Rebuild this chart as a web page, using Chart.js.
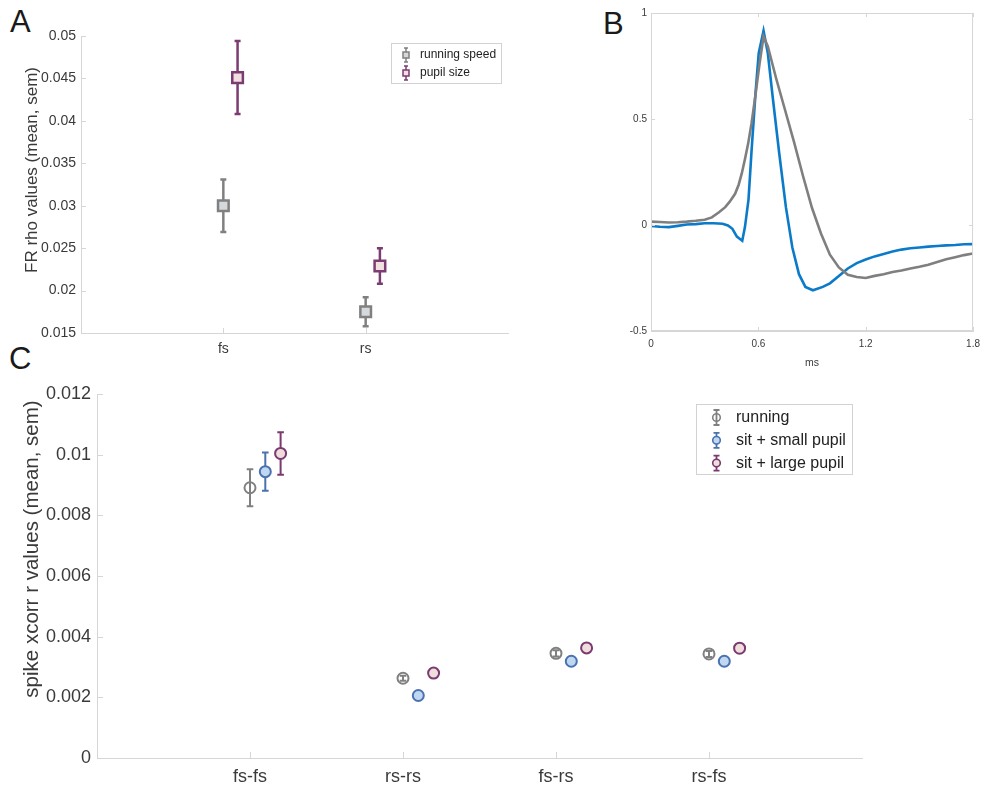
<!DOCTYPE html>
<html>
<head>
<meta charset="utf-8">
<title>rho / xcorr / waveforms</title>
<script src="https://cdn.jsdelivr.net/npm/chart.js@4.4.0/dist/chart.umd.min.js"></script>
<style>
    body { margin: 0; background: #fff; width: 987px; height: 787px; position: relative; overflow: hidden; font-family: "Liberation Sans", Arial, sans-serif; }
    .panel { position: absolute; }
    .tag { position: absolute; font-size: 31px; line-height: 1; color: #1a1a1a; }
</style>
</head>
<body>
<div class="tag" style="left:10px;top:6px">A</div>
<div class="tag" style="left:603px;top:8px">B</div>
<div class="tag" style="left:9px;top:343px">C</div>

<div class="panel" style="left:0;top:20px;width:520px;height:345px"><canvas id="rhoChart"></canvas></div>
<div class="panel" style="left:600px;top:0;width:387px;height:375px"><canvas id="waveChart"></canvas></div>
<div class="panel" style="left:0;top:375px;width:880px;height:412px"><canvas id="xcorrChart"></canvas></div>

<script>
// ---- A: firing-rate correlation ----
const rhoCategories = ['fs', 'rs'];
const rhoRunMean = [0.0300, 0.0175];
const rhoRunSem = [0.0031, 0.0017];
const rhoPupilMean = [0.0451, 0.0229];
const rhoPupilSem = [0.0043, 0.0021];
const rhoTicks = [0.015, 0.02, 0.025, 0.03, 0.035, 0.04, 0.045, 0.05];

// ---- B: mean waveforms ----
const grayT = [0, 0.05, 0.1, 0.15, 0.2, 0.25, 0.3, 0.34, 0.38, 0.415, 0.44, 0.47, 0.49, 0.507, 0.525, 0.543, 0.562, 0.58, 0.607, 0.629, 0.653, 0.7, 0.75, 0.8, 0.85, 0.9, 0.95, 1.0, 1.05, 1.1, 1.15, 1.2, 1.25, 1.3, 1.35, 1.4, 1.45, 1.5, 1.55, 1.6, 1.65, 1.7, 1.75, 1.8];
const grayV = [0.016, 0.014, 0.012, 0.013, 0.016, 0.02, 0.025, 0.036, 0.06, 0.084, 0.11, 0.147, 0.19, 0.242, 0.31, 0.384, 0.48, 0.589, 0.763, 0.889, 0.842, 0.69, 0.54, 0.39, 0.23, 0.08, -0.04, -0.14, -0.2, -0.235, -0.245, -0.25, -0.24, -0.232, -0.222, -0.215, -0.205, -0.197, -0.187, -0.175, -0.162, -0.152, -0.142, -0.134];
const blueT = [0, 0.05, 0.1, 0.15, 0.2, 0.25, 0.3, 0.35, 0.4, 0.43, 0.455, 0.48, 0.51, 0.525, 0.545, 0.562, 0.584, 0.602, 0.629, 0.653, 0.68, 0.717, 0.754, 0.79, 0.827, 0.863, 0.905, 0.96, 1.0, 1.05, 1.1, 1.15, 1.2, 1.25, 1.3, 1.35, 1.4, 1.45, 1.5, 1.55, 1.6, 1.65, 1.7, 1.75, 1.8];
const blueV = [-0.005, -0.008, -0.01, -0.004, 0.002, 0.004, 0.008, 0.008, 0.006, -0.002, -0.018, -0.055, -0.074, -0.01, 0.12, 0.35, 0.62, 0.81, 0.916, 0.81, 0.605, 0.336, 0.084, -0.106, -0.232, -0.292, -0.308, -0.292, -0.275, -0.24, -0.205, -0.18, -0.163, -0.148, -0.137, -0.125, -0.116, -0.11, -0.106, -0.102, -0.099, -0.096, -0.094, -0.091, -0.09];
const waveTicksX = [0, 0.6, 1.2, 1.8];
const waveTicksY = [-0.5, 0, 0.5, 1];

// ---- C: spike cross-correlation ----
const pairCategories = ['fs-fs', 'rs-rs', 'fs-rs', 'rs-fs'];
const runMean = [0.00891, 0.00263, 0.00345, 0.00343];
const runSem = [0.00061, 0.00008, 0.00010, 0.00010];
const smallMean = [0.00944, 0.00206, 0.00319, 0.00319];
const smallSem = [0.00063, 0.00005, 0.00006, 0.00006];
const largeMean = [0.01004, 0.00280, 0.00363, 0.00362];
const largeSem = [0.00070, 0.00006, 0.00010, 0.00010];
const pairTicks = [0, 0.002, 0.004, 0.006, 0.008, 0.01, 0.012];

Chart.defaults.font.family = '"Liberation Sans", Arial, sans-serif';
Chart.defaults.color = '#3a3a3a';
Chart.defaults.animation = false;

const AXIS = '#d6d6d6';
const TICK_TEXT = '#3a3a3a';

function toPoints(values, offset) {
    return values.map((v, i) => ({ x: i + 1 + offset, y: v }));
}

function drawMarker(ctx, style, x, y, r, fill, stroke, lw) {
    ctx.beginPath();
    if (style === 'rect') {
        ctx.rect(x - r, y - r, 2 * r, 2 * r);
    } else {
        ctx.arc(x, y, r, 0, Math.PI * 2);
    }
    ctx.fillStyle = fill;
    ctx.fill();
    ctx.lineWidth = lw;
    ctx.strokeStyle = stroke;
    ctx.stroke();
}

// error bars behind the markers
const errorBars = {
    id: 'errorBars',
    beforeDatasetsDraw(chart) {
        const { ctx, scales: { x, y } } = chart;
        chart.data.datasets.forEach(ds => {
            if (!ds.sem) return;
            ctx.save();
            ctx.strokeStyle = ds.borderColor;
            ctx.lineWidth = ds.barWidth;
            ds.data.forEach((p, i) => {
                const px = x.getPixelForValue(p.x);
                const top = y.getPixelForValue(p.y + ds.sem[i]);
                const bot = y.getPixelForValue(p.y - ds.sem[i]);
                ctx.beginPath();
                ctx.moveTo(px, top);
                ctx.lineTo(px, bot);
                ctx.moveTo(px - ds.cap, top);
                ctx.lineTo(px + ds.cap, top);
                ctx.moveTo(px - ds.cap, bot);
                ctx.lineTo(px + ds.cap, bot);
                ctx.stroke();
            });
            ctx.restore();
        });
    }
};

// inward tick marks, optional full box, rotated y title and legend
const decor = {
    id: 'decor',
    afterDraw(chart, args, o) {
        const { ctx, chartArea: a, scales: { x, y } } = chart;
        ctx.save();
        ctx.strokeStyle = AXIS;
        ctx.lineWidth = 1;
        ctx.beginPath();
        if (o.box) {
            ctx.rect(a.left + 0.5, a.top + 0.5, a.right - a.left - 1, a.bottom - a.top - 1);
        }
        x.ticks.forEach(t => {
            const px = Math.round(x.getPixelForValue(t.value)) + 0.5;
            ctx.moveTo(px, a.bottom);
            ctx.lineTo(px, a.bottom - o.tick);
            if (o.box) {
                ctx.moveTo(px, a.top);
                ctx.lineTo(px, a.top + o.tick);
            }
        });
        y.ticks.forEach(t => {
            const py = Math.round(y.getPixelForValue(t.value)) + 0.5;
            ctx.moveTo(a.left, py);
            ctx.lineTo(a.left + o.tick, py);
            if (o.box) {
                ctx.moveTo(a.right, py);
                ctx.lineTo(a.right - o.tick, py);
            }
        });
        ctx.stroke();

        if (o.title) {
            ctx.save();
            ctx.translate(o.title.x, o.title.y);
            ctx.rotate(-Math.PI / 2);
            ctx.font = o.title.font;
            ctx.fillStyle = '#3a3a3a';
            ctx.textAlign = 'center';
            ctx.textBaseline = 'middle';
            ctx.fillText(o.title.text, 0, 0);
            ctx.restore();
        }

        const lg = o.legend;
        if (lg) {
            ctx.fillStyle = '#fff';
            ctx.fillRect(lg.x, lg.y, lg.w, lg.h);
            ctx.strokeStyle = '#d2d2d2';
            ctx.strokeRect(lg.x + 0.5, lg.y + 0.5, lg.w, lg.h);
            ctx.font = lg.font;
            ctx.textBaseline = 'middle';
            chart.data.datasets.forEach((ds, i) => {
                const cy = lg.y + lg.first + i * lg.row;
                const ix = lg.x + lg.iconX;
                ctx.strokeStyle = ds.borderColor;
                ctx.lineWidth = lg.barWidth;
                ctx.beginPath();
                ctx.moveTo(ix, cy - lg.half);
                ctx.lineTo(ix, cy + lg.half);
                ctx.moveTo(ix - lg.cap, cy - lg.half);
                ctx.lineTo(ix + lg.cap, cy - lg.half);
                ctx.moveTo(ix - lg.cap, cy + lg.half);
                ctx.lineTo(ix + lg.cap, cy + lg.half);
                ctx.stroke();
                drawMarker(ctx, ds.pointStyle, ix, cy, lg.marker, ds.backgroundColor, ds.borderColor, lg.markerBorder);
                ctx.fillStyle = '#222';
                ctx.fillText(ds.label, lg.x + lg.textX, cy);
            });
        }
        ctx.restore();
    }
};

function categoryAxis(cats, max, height, font, pad) {
    return {
        type: 'linear', min: 0, max: max,
        afterBuildTicks: s => { s.ticks = cats.map((c, i) => ({ value: i + 1 })); },
        afterFit: s => { s.height = height; },
        ticks: { callback: v => cats[v - 1], font: { size: font }, padding: pad, maxRotation: 0, color: TICK_TEXT },
        grid: { display: false, drawTicks: false },
        border: { color: AXIS }
    };
}

function valueAxis(ticks, width, font, pad) {
    return {
        type: 'linear', min: ticks[0], max: ticks[ticks.length - 1],
        afterBuildTicks: s => { s.ticks = ticks.map(v => ({ value: v })); },
        afterFit: s => { s.width = width; },
        ticks: { callback: v => String(v), font: { size: font }, padding: pad, color: TICK_TEXT },
        grid: { display: false, drawTicks: false },
        border: { color: AXIS }
    };
}

// A
new Chart(document.getElementById('rhoChart'), {
    type: 'scatter',
    data: {
        datasets: [
            { label: 'running speed', data: toPoints(rhoRunMean, 0), sem: rhoRunSem,
              pointStyle: 'rect', pointRadius: 7.5, borderWidth: 2.5,
              borderColor: '#808080', backgroundColor: '#d6d9db', barWidth: 2.5, cap: 3 },
            { label: 'pupil size', data: toPoints(rhoPupilMean, 0.1), sem: rhoPupilSem,
              pointStyle: 'rect', pointRadius: 7.5, borderWidth: 2.5,
              borderColor: '#7b3d71', backgroundColor: '#f2dfdf', barWidth: 2.5, cap: 3 }
        ]
    },
    options: {
        responsive: true, maintainAspectRatio: false,
        layout: { padding: { left: 0, top: 16, right: 12, bottom: 0 } },
        scales: {
            x: categoryAxis(rhoCategories, 3, 32, 14, 8),
            y: valueAxis(rhoTicks, 81, 14, 5)
        },
        plugins: {
            legend: { display: false }, tooltip: { enabled: false },
            decor: {
                tick: 5,
                title: { text: 'FR rho values (mean, sem)', x: 32, y: 150, font: '17px "Liberation Sans", Arial, sans-serif' },
                legend: { x: 391, y: 23, w: 110, h: 40, first: 12, row: 18, iconX: 15, textX: 29,
                          half: 7, cap: 2, barWidth: 1.5, marker: 3, markerBorder: 1.5, font: '12px "Liberation Sans", Arial, sans-serif' }
            }
        }
    },
    plugins: [errorBars, decor]
});

// B
new Chart(document.getElementById('waveChart'), {
    type: 'scatter',
    data: {
        datasets: [
            { label: 'rs', data: grayT.map((t, i) => ({ x: t, y: grayV[i] })), showLine: true,
              borderColor: '#7f7f7f', borderWidth: 2.6, pointRadius: 0 },
            { label: 'fs', data: blueT.map((t, i) => ({ x: t, y: blueV[i] })), showLine: true,
              borderColor: '#0b7bc9', borderWidth: 2.6, pointRadius: 0 }
        ]
    },
    options: {
        responsive: true, maintainAspectRatio: false,
        layout: { padding: { left: 0, top: 13, right: 8, bottom: 0 } },
        scales: {
            x: {
                type: 'linear', min: 0, max: 1.8,
                afterBuildTicks: s => { s.ticks = waveTicksX.map(v => ({ value: v })); },
                afterFit: s => { s.height = 44; },
                ticks: { callback: v => String(v), font: { size: 10 }, padding: 7, maxRotation: 0, color: TICK_TEXT },
                grid: { display: false, drawTicks: false },
                border: { color: AXIS },
                title: { display: true, text: 'ms', font: { size: 10.5 }, color: TICK_TEXT, padding: { top: 0, bottom: 6 } }
            },
            y: {
                type: 'linear', min: -0.5, max: 1,
                afterBuildTicks: s => { s.ticks = waveTicksY.map(v => ({ value: v })); },
                afterFit: s => { s.width = 51; },
                ticks: { callback: v => String(v), font: { size: 10 }, padding: 4, color: TICK_TEXT },
                grid: { display: false, drawTicks: false },
                border: { color: AXIS }
            }
        },
        plugins: { legend: { display: false }, tooltip: { enabled: false }, decor: { tick: 4, box: true } }
    },
    plugins: [decor]
});

// C
new Chart(document.getElementById('xcorrChart'), {
    type: 'scatter',
    data: {
        datasets: [
            { label: 'running', data: toPoints(runMean, 0), sem: runSem,
              pointStyle: 'circle', pointRadius: 5.5, borderWidth: 2,
              borderColor: '#808080', backgroundColor: 'rgba(255,255,255,0)', barWidth: 2, cap: 3.3 },
            { label: 'sit + small pupil', data: toPoints(smallMean, 0.1), sem: smallSem,
              pointStyle: 'circle', pointRadius: 5.5, borderWidth: 2,
              borderColor: '#4a72b0', backgroundColor: '#bfd7f0', barWidth: 2, cap: 3.3 },
            { label: 'sit + large pupil', data: toPoints(largeMean, 0.2), sem: largeSem,
              pointStyle: 'circle', pointRadius: 5.5, borderWidth: 2,
              borderColor: '#7b3a6f', backgroundColor: '#efdcdc', barWidth: 2, cap: 3.3 }
        ]
    },
    options: {
        responsive: true, maintainAspectRatio: false,
        layout: { padding: { left: 0, top: 19, right: 18, bottom: 0 } },
        scales: {
            x: categoryAxis(pairCategories, 5, 29, 18, 8),
            y: valueAxis(pairTicks, 97, 18, 6)
        },
        plugins: {
            legend: { display: false }, tooltip: { enabled: false },
            decor: {
                tick: 6,
                title: { text: 'spike xcorr r values (mean, sem)', x: 32, y: 174, font: '20.5px "Liberation Sans", Arial, sans-serif' },
                legend: { x: 696, y: 29, w: 156, h: 70, first: 13.5, row: 22.8, iconX: 20.5, textX: 40,
                          half: 7.5, cap: 3, barWidth: 1.8, marker: 3.8, markerBorder: 1.6, font: '16px "Liberation Sans", Arial, sans-serif' }
            }
        }
    },
    plugins: [errorBars, decor]
});
</script>
</body>
</html>
